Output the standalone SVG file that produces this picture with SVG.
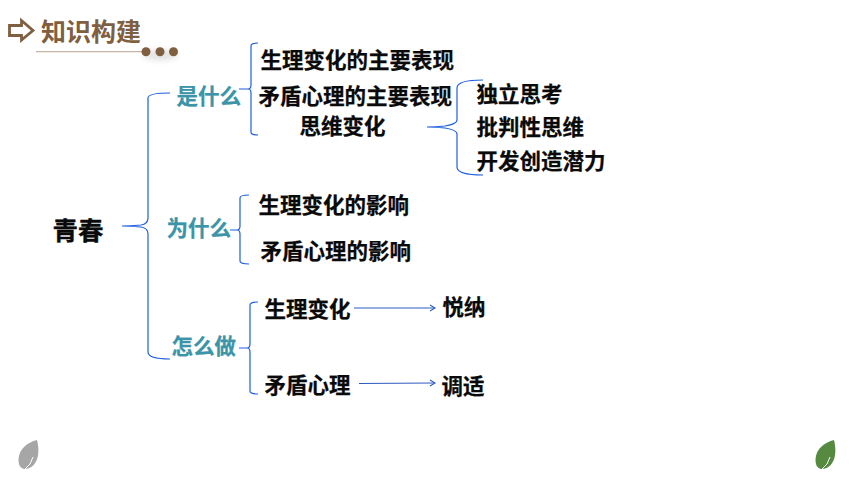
<svg xmlns="http://www.w3.org/2000/svg" width="860" height="484" viewBox="0 0 860 484">
<style>
text{font-family:"Noto Sans CJK SC","Noto Sans",sans-serif;font-weight:700;fill:#0a0a0a;font-size:21.500px;stroke:#0a0a0a;stroke-width:.25}
.t{fill:#3c94a8;stroke:#3c94a8}
.h{fill:#7f5f3f;stroke:#7f5f3f;font-size:25px;font-weight:700;stroke-width:0}
.b{fill:none;stroke:#1f5fe0;stroke-width:1.200}
.a{fill:none;stroke:#2f5cc0;stroke-width:1.100}
</style>
<defs>
<marker id="m" markerWidth="8" markerHeight="8" refX="6" refY="4" orient="auto" markerUnits="userSpaceOnUse"><path d="M1 1L6 4L1 7" fill="none" stroke="#2f5cc0" stroke-width="1.100"/></marker>
<filter id="s" x="-30%" y="-80%" width="160%" height="300%"><feGaussianBlur stdDeviation="3"/></filter>
</defs>
<rect width="860" height="484" fill="#fff"/>
<g id="header">
<path d="M9.500 25.500H21.500V20.500L33 30.500L21.500 40V35.500H9.500Z" fill="none" stroke="#7f5f3f" stroke-width="2.800"/>
<text class="h" x="41" y="41">知识构建</text>
<path d="M36 51.700H142" stroke="#c5b5a3" stroke-width="1.200"/>
<ellipse cx="160" cy="55" rx="18" ry="5" fill="#000" opacity=".12" filter="url(#s)"/>
<circle cx="146" cy="51.700" r="4.500" fill="#7f5f3f"/><circle cx="160" cy="51.700" r="4.500" fill="#7f5f3f"/><circle cx="173.500" cy="51.700" r="4.500" fill="#7f5f3f"/>
</g>
<g id="connectors">
<path class="b" d="M170 93Q148 93 148 98V218Q148 224 141 225Q130 226 122 226Q130 226 141 227Q148 228 148 234V352Q148 359 170 359"/>
<path class="b" d="M258 43Q251 43 251 46V85Q251 89 248 89H239H248Q251 89 251 93V132Q251 135 258 135"/>
<path class="b" d="M483 80Q457 80 457 88V120Q457 124 445 126Q436 127 427 127Q436 127 445 128Q457 130 457 134V167Q457 175 483 175"/>
<path class="b" d="M249 195Q240 195 240 198V226Q240 230 237 230H230H237Q240 230 240 234V261Q240 264 249 264"/>
<path class="b" d="M258 302Q250 302 250 305V344Q250 348 247 348H239H247Q250 348 250 352V391Q250 394 258 394"/>
<path class="a" d="M354 308H435" marker-end="url(#m)"/>
<path class="a" d="M359 383.500L435 383" marker-end="url(#m)"/>
</g>
<g id="n-qingchun"><text x="52.500" y="240" style="font-size:25.500px;stroke-width:.4">青春</text></g>
<g id="n-shi"><text class="t" x="176.500" y="103.800">是什么</text></g>
<g id="n-wei"><text class="t" x="166.500" y="235.800">为什么</text></g>
<g id="n-zen"><text class="t" x="171.500" y="353.800">怎么做</text></g>
<g id="n-a1"><text x="260.500" y="68">生理变化的主要表现</text></g>
<g id="n-a2"><text x="258.500" y="103.800">矛盾心理的主要表现</text></g>
<g id="n-a3"><text x="299.500" y="134">思维变化</text></g>
<g id="n-c1"><text x="476.500" y="101.800">独立思考</text></g>
<g id="n-c2"><text x="476.500" y="135">批判性思维</text></g>
<g id="n-c3"><text x="476.500" y="168.800">开发创造潜力</text></g>
<g id="n-b1"><text x="258.500" y="213">生理变化的影响</text></g>
<g id="n-b2"><text x="260.500" y="259">矛盾心理的影响</text></g>
<g id="n-d1"><text x="264.500" y="317">生理变化</text></g>
<g id="n-d2"><text x="264.500" y="393">矛盾心理</text></g>
<g id="n-e1"><text x="442.500" y="315">悦纳</text></g>
<g id="n-e2"><text x="441.500" y="394">调适</text></g>
<g id="leaves">
<path d="M37 440C28 442 19 449 18.500 459C18.500 465 20 468 24 469C36 469 41 456 37 440Z" fill="#a6a6a6"/>
<path d="M25 469Q31 465 33 457" fill="none" stroke="#fff" stroke-width="1"/>
<path d="M834 440C825 442 816 449 815.500 459C815.500 465 817 468 821 469C833 469 838 456 834 440Z" fill="#558a40"/>
<path d="M822 469Q828 465 830 457" fill="none" stroke="#fff" stroke-width="1"/>
</g>
</svg>
